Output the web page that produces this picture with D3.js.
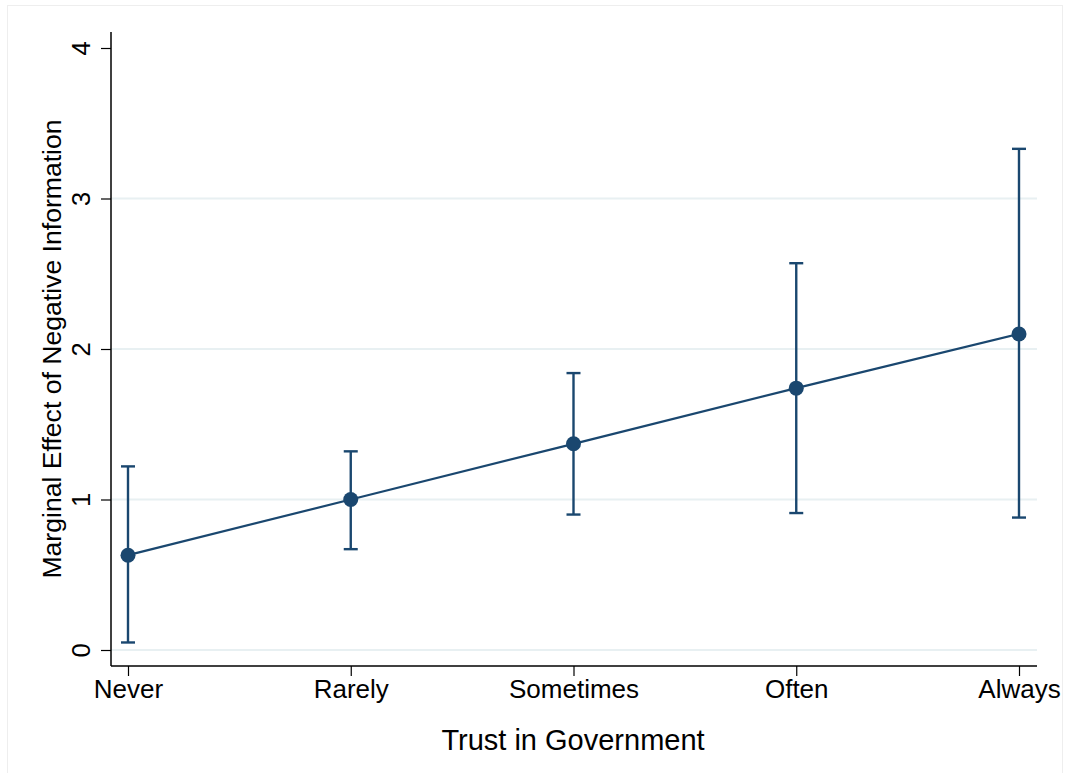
<!DOCTYPE html>
<html>
<head>
<meta charset="utf-8">
<script src="https://cdn.jsdelivr.net/npm/d3@7"></script>
<style>
  html, body { margin: 0; padding: 0; background: #ffffff; }
  text { font-family: "Liberation Sans", Arial, Helvetica, sans-serif; fill: #000; }
</style>
</head>
<body>
<svg id="chart" width="1066" height="773"></svg>
<script>
// ---- data ----
const categories = ["Never", "Rarely", "Sometimes", "Often", "Always"];
const estimates  = [0.63, 1.00, 1.37, 1.74, 2.10];
const lowerCI    = [0.05, 0.67, 0.90, 0.91, 0.88];
const upperCI    = [1.22, 1.32, 1.84, 2.57, 3.33];
const yTicks     = [0, 1, 2, 3, 4];
const xTitle = "Trust in Government";
const yTitle = "Marginal Effect of Negative Information";

const navy = "#1a476f";
const grid = "#e8f0f2";

const svg = d3.select("#chart");

// outer frame
svg.append("rect")
  .attr("x", 7.5).attr("y", 5.5)
  .attr("width", 1055).attr("height", 780)
  .attr("fill", "none").attr("stroke", "#eeeeee").attr("stroke-width", 1);

const pLeft = 111, pRight = 1037, pTop = 32, pBottom = 666;

const x = d3.scalePoint().domain(categories).range([128, 1019]);
const y = d3.scaleLinear().domain([0, 4]).range([650, 48]);

// gridlines
svg.append("g").selectAll("line").data(yTicks.filter(d => d < 4)).join("line")
  .attr("x1", pLeft).attr("x2", pRight)
  .attr("y1", d => y(d)).attr("y2", d => y(d))
  .attr("stroke", grid).attr("stroke-width", 2);

// y axis
const yAxis = svg.append("g")
  .attr("transform", `translate(${pLeft},0)`)
  .call(d3.axisLeft(y).tickValues(yTicks).tickSize(10).tickSizeOuter(0).tickFormat(d3.format("d")));
yAxis.select(".domain").remove();
yAxis.selectAll(".tick line").attr("stroke", "#000").attr("stroke-width", 1.2);
yAxis.selectAll(".tick text")
  .attr("x", null).attr("dy", null)
  .attr("transform", "translate(-21,0) rotate(-90)")
  .attr("text-anchor", "middle")
  .style("font-size", "25.5px");
svg.append("line")
  .attr("x1", pLeft).attr("x2", pLeft).attr("y1", pTop).attr("y2", pBottom)
  .attr("stroke", "#000").attr("stroke-width", 1.5);

// x axis
const xAxis = svg.append("g")
  .attr("transform", `translate(0,${pBottom})`)
  .call(d3.axisBottom(x).tickSize(10).tickSizeOuter(0));
xAxis.select(".domain").remove();
xAxis.selectAll(".tick line").attr("stroke", "#000").attr("stroke-width", 1.2);
xAxis.selectAll(".tick text")
  .attr("y", 14).attr("dy", "0.71em")
  .style("font-size", "26px");
svg.append("line")
  .attr("x1", pLeft).attr("x2", pRight).attr("y1", pBottom).attr("y2", pBottom)
  .attr("stroke", "#000").attr("stroke-width", 1.5);

// titles
svg.append("text")
  .attr("x", (pLeft + pRight) / 2 - 1).attr("y", 750)
  .attr("text-anchor", "middle")
  .style("font-size", "29px")
  .text(xTitle);
svg.append("text")
  .attr("transform", `translate(61,${(y(0) + y(4)) / 2}) rotate(-90)`)
  .attr("text-anchor", "middle")
  .style("font-size", "26.6px")
  .text(yTitle);

const rows = categories.map((c, i) => ({ c, est: estimates[i], lo: lowerCI[i], hi: upperCI[i] }));

// connecting line
svg.append("path")
  .datum(rows)
  .attr("fill", "none").attr("stroke", navy).attr("stroke-width", 2.2)
  .attr("d", d3.line().x(d => x(d.c)).y(d => y(d.est)));

// error bars
const eb = svg.append("g").attr("stroke", navy).attr("stroke-width", 2.4);
eb.selectAll(".v").data(rows).join("line")
  .attr("x1", d => x(d.c)).attr("x2", d => x(d.c))
  .attr("y1", d => y(d.lo)).attr("y2", d => y(d.hi));
eb.selectAll(".capl").data(rows).join("line")
  .attr("x1", d => x(d.c) - 7).attr("x2", d => x(d.c) + 7)
  .attr("y1", d => y(d.lo)).attr("y2", d => y(d.lo));
eb.selectAll(".caph").data(rows).join("line")
  .attr("x1", d => x(d.c) - 7).attr("x2", d => x(d.c) + 7)
  .attr("y1", d => y(d.hi)).attr("y2", d => y(d.hi));

// markers
svg.append("g").selectAll("circle").data(rows).join("circle")
  .attr("cx", d => x(d.c)).attr("cy", d => y(d.est))
  .attr("r", 7.5).attr("fill", navy);
</script>
</body>
</html>
